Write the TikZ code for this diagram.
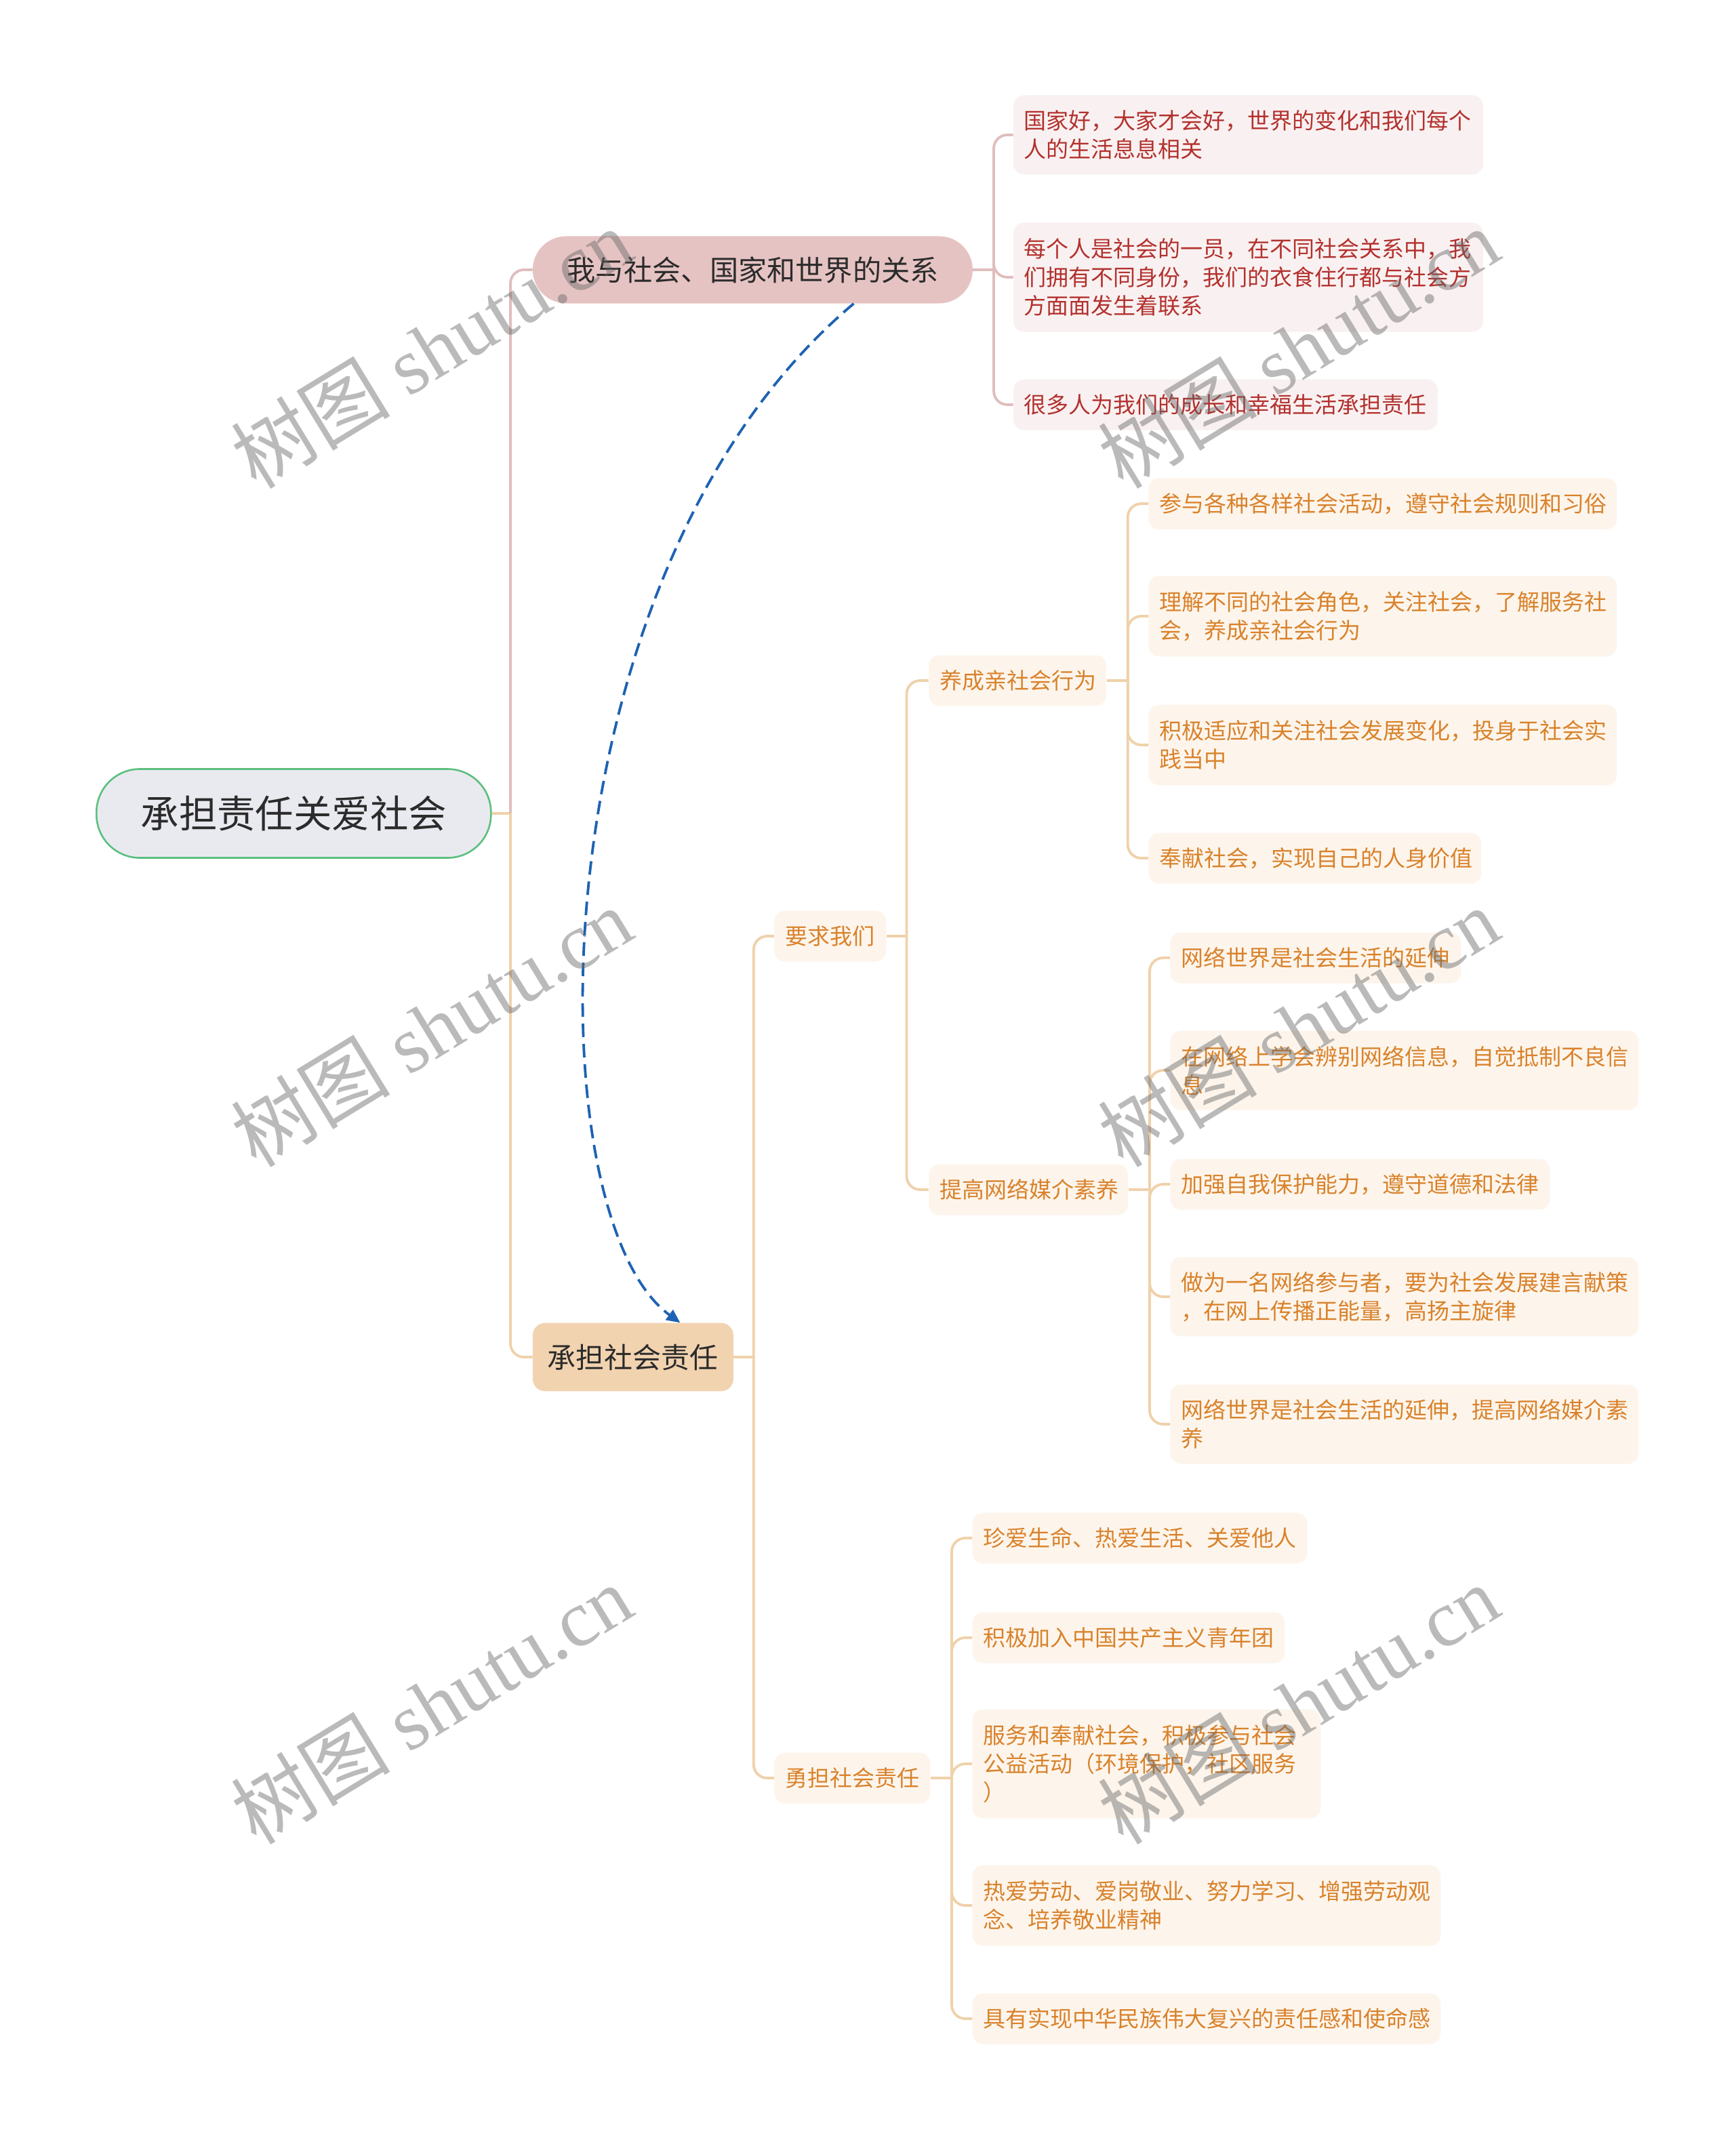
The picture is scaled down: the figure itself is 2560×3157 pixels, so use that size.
\documentclass[tikz,border=0pt]{standalone}
\usepackage{fontspec}
\setmainfont{Noto Sans CJK SC}
\newfontfamily\wmserif{Liberation Serif}
\newfontfamily\wmcjk{Noto Sans CJK SC}
\usetikzlibrary{arrows.meta}
\definecolor{rootfill}{HTML}{E9EAF0}
\definecolor{rootdraw}{HTML}{5CBF7F}
\definecolor{bronefill}{HTML}{E6C3C3}
\definecolor{brtwofill}{HTML}{F2D3B0}
\definecolor{pinkline}{HTML}{E0BDBD}
\definecolor{peachline}{HTML}{EFD1AA}
\definecolor{leafPfill}{HTML}{F9F1F1}
\definecolor{leafPtext}{HTML}{B3312E}
\definecolor{leafOfill}{HTML}{FDF5EC}
\definecolor{leafOtext}{HTML}{D9822B}
\definecolor{linkblue}{HTML}{1E62B3}
\definecolor{darktext}{HTML}{2B2B2B}
\newcommand\leafsize{\fontsize{16.5pt}{21pt}\selectfont}
\begin{document}
\begin{tikzpicture}[x=0.5pt,y=-0.5pt,
  rootnode/.style={rectangle, rounded corners=32pt, fill=rootfill, draw=rootdraw, line width=1.3pt,
    text=darktext, font=\fontsize{28.2pt}{34pt}\selectfont, inner sep=0pt, anchor=west,
    minimum width=291pt, minimum height=65.5pt},
  brone/.style={rectangle, rounded corners=24.7pt, fill=bronefill, text=darktext,
    font=\fontsize{21.1pt}{26pt}\selectfont, inner sep=0pt, anchor=west,
    minimum width=324.5pt, minimum height=49.5pt},
  brtwo/.style={rectangle, rounded corners=9pt, fill=brtwofill, text=darktext,
    font=\fontsize{21pt}{26pt}\selectfont, inner sep=0pt, anchor=west,
    minimum width=148pt, minimum height=50.3pt},
  leafP/.style={rectangle, rounded corners=8pt, fill=leafPfill, text=leafPtext, font=\leafsize,
    align=left, inner xsep=8pt, inner ysep=0pt, anchor=west},
  leafO/.style={rectangle, rounded corners=8pt, fill=leafOfill, text=leafOtext, font=\leafsize,
    align=left, inner xsep=8pt, inner ysep=0pt, anchor=west},
  pinkc/.style={draw=pinkline, line width=1.9pt, rounded corners=10pt},
  peachc/.style={draw=peachline, line width=1.9pt, rounded corners=10pt},
  wmark/.style={rotate=31.4, text=black!60, opacity=0.45, font=\fontsize{59pt}{59pt}\selectfont, inner sep=0pt},
  linkarrow/.style={draw=linkblue, line width=1.9pt, dash pattern=on 10pt off 5pt,
    -{Triangle[length=10pt,width=9pt]}}
]
\useasboundingbox (0,0) rectangle (2560,3157);
\fill[white] (0,0) rectangle (2560,3157);

% main nodes
\node[rootnode] (root) at (141,1200) {承担责任关爱社会};
\node[brone] (br1) at (785.5,398) {我与社会、国家和世界的关系};
\node[brtwo] (br2) at (785.5,2002) {承担社会责任};

% branch 1 leaves
\node[leafP, text width=330.5pt, minimum height=58.5pt] (c1) at (1494.5,199) {国家好，大家才会好，世界的变化和我们每个\\人的生活息息相关};
\node[leafP, text width=330.5pt, minimum height=80.5pt] (c2) at (1494.5,409) {每个人是社会的一员，在不同社会关系中，我\\们拥有不同身份，我们的衣食住行都与社会方\\方面面发生着联系};
\node[leafP, text width=297pt, minimum height=37.5pt] (c3) at (1494.5,597) {很多人为我们的成长和幸福生活承担责任};

% branch 2 level 2
\node[leafO, text width=66.5pt, minimum height=37.5pt] (l2a) at (1142,1381) {要求我们};
\node[leafO, text width=99pt, minimum height=37.5pt] (l2b) at (1142,2623) {勇担社会责任};

% level 3
\node[leafO, text width=115pt, minimum height=37.5pt] (l3a) at (1369.7,1004) {养成亲社会行为};
\node[leafO, text width=131pt, minimum height=37.5pt] (l3b) at (1369.7,1755) {提高网络媒介素养};

% l3a leaves
\node[leafO, text width=329.5pt, minimum height=38pt] (a1) at (1694,743) {参与各种各样社会活动，遵守社会规则和习俗};
\node[leafO, text width=329.5pt, minimum height=59.5pt] (a2) at (1694,909) {理解不同的社会角色，关注社会，了解服务社\\会，养成亲社会行为};
\node[leafO, text width=329.5pt, minimum height=59.5pt] (a3) at (1694,1099) {积极适应和关注社会发展变化，投身于社会实\\践当中};
\node[leafO, text width=229.5pt, minimum height=37.5pt] (a4) at (1694,1266) {奉献社会，实现自己的人身价值};

% l3b leaves
\node[leafO, text width=198.5pt, minimum height=37.5pt] (b1) at (1726,1413) {网络世界是社会生活的延伸};
\node[leafO, text width=329.5pt, minimum height=58.5pt] (b2) at (1726,1579) {在网络上学会辨别网络信息，自觉抵制不良信\\息};
\node[leafO, text width=264pt, minimum height=37.5pt] (b3) at (1726,1747) {加强自我保护能力，遵守道德和法律};
\node[leafO, text width=329.5pt, minimum height=58.5pt] (b4) at (1726,1913) {做为一名网络参与者，要为社会发展建言献策\\，在网上传播正能量，高扬主旋律};
\node[leafO, text width=329.5pt, minimum height=58.5pt] (b5) at (1726,2101) {网络世界是社会生活的延伸，提高网络媒介素\\养};

% l2b leaves
\node[leafO, text width=231pt, minimum height=37.5pt] (d1) at (1434,2269) {珍爱生命、热爱生活、关爱他人};
\node[leafO, text width=214.5pt, minimum height=37.5pt] (d2) at (1434,2416) {积极加入中国共产主义青年团};
\node[leafO, text width=241pt, minimum height=80.5pt] (d3) at (1434,2602) {服务和奉献社会，积极参与社会\\公益活动（环境保护，社区服务\\）};
\node[leafO, text width=329.5pt, minimum height=59.5pt] (d4) at (1434,2811) {热爱劳动、爱岗敬业、努力学习、增强劳动观\\念、培养敬业精神};
\node[leafO, text width=329.5pt, minimum height=37.5pt] (d5) at (1434,2978) {具有实现中华民族伟大复兴的责任感和使命感};

% junctions
\coordinate (j0) at (753,1200);
\coordinate (j1) at (1466,398);
\coordinate (j2) at (1111.8,2002);
\coordinate (j3) at (1337.4,1381);
\coordinate (j4) at (1663.7,1004);
\coordinate (j5) at (1696,1755);
\coordinate (j6) at (1404,2623);

% connectors
\draw[peachc] (root.east) -- (j0);
\draw[pinkc] (j0) |- (br1.west);
\draw[peachc] (j0) |- (br2.west);

\draw[pinkc] (br1.east) -- (j1);
\foreach \n in {c1,c2,c3} \draw[pinkc] (j1) |- (\n.west);

\draw[peachc] (br2.east) -- (j2);
\foreach \n in {l2a,l2b} \draw[peachc] (j2) |- (\n.west);

\draw[peachc] (l2a.east) -- (j3);
\foreach \n in {l3a,l3b} \draw[peachc] (j3) |- (\n.west);

\draw[peachc] (l3a.east) -- (j4);
\foreach \n in {a1,a2,a3,a4} \draw[peachc] (j4) |- (\n.west);

\draw[peachc] (l3b.east) -- (j5);
\foreach \n in {b1,b2,b3,b4,b5} \draw[peachc] (j5) |- (\n.west);

\draw[peachc] (l2b.east) -- (j6);
\foreach \n in {d1,d2,d3,d4,d5} \draw[peachc] (j6) |- (\n.west);

% relation arrow
\draw[linkarrow] ([xshift=74.5pt]br1.south) .. controls (785.5,846) and (785.5,1793) .. ([xshift=34.75pt]br2.north);

% watermarks
\foreach \p/\q [count=\i] in {636/513.6, 1915/513.6, 636/1514.7, 1915/1514.7, 636/2513.7, 1915/2513.7}
  \node[wmark] (wm\i) at (\p,\q) {{\wmcjk 树图} {\wmserif shutu.cn}};
\end{tikzpicture}
\end{document}
